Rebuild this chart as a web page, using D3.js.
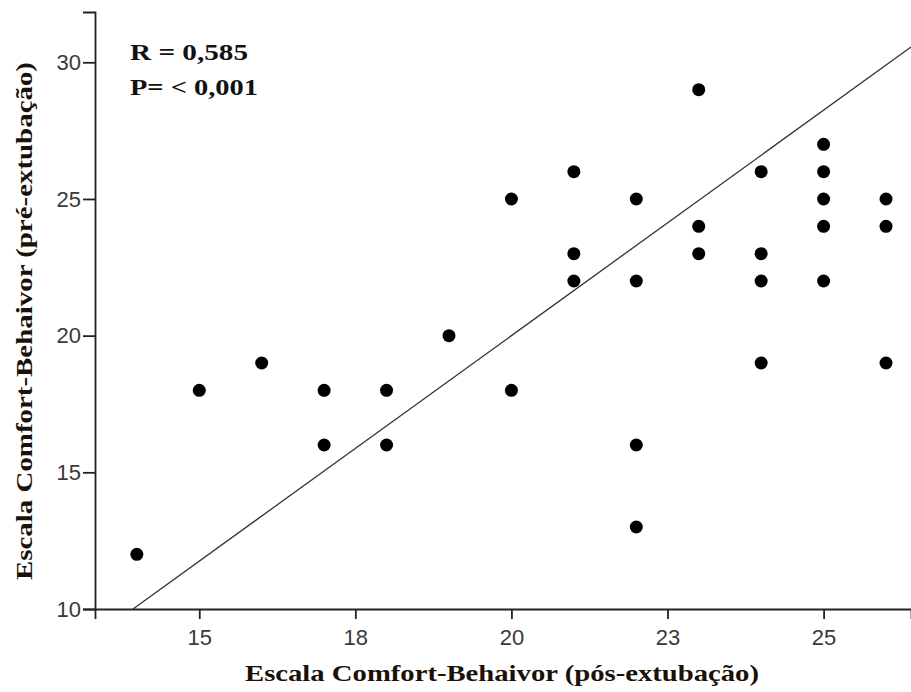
<!DOCTYPE html>
<html>
<head>
<meta charset="utf-8">
<script src="https://cdn.jsdelivr.net/npm/d3@7"></script>
<style>
  body { margin: 0; background: #fff; }
  .tick text { font-family: "Liberation Sans", Arial, sans-serif; font-size: 22px; fill: #3a3a3a; }
  .axis-title { font-family: "Liberation Serif", "Times New Roman", serif; font-weight: bold; font-size: 24px; fill: #1a1208; }
  .stat { font-family: "Liberation Serif", "Times New Roman", serif; font-weight: bold; font-size: 24px; fill: #111; }
</style>
</head>
<body>
<svg id="canvas" width="911" height="692"></svg>
<script>
// pós-extubação (x) and pré-extubação (y) scores
let posScores = [14, 15, 16, 17, 17, 18, 18, 19, 20, 20, 21, 21, 21, 22, 22, 22, 22,
                 23, 23, 23, 24, 24, 24, 24, 25, 25, 25, 25, 25, 26, 26, 26];
let preScores = [12, 18, 19, 18, 16, 18, 16, 20, 25, 18, 26, 23, 22, 25, 22, 16, 13,
                 29, 24, 23, 26, 23, 22, 19, 27, 26, 25, 24, 22, 25, 24, 19];
let xTicks = [15, 17.5, 20, 22.5, 25];
let yTicks = [10, 15, 20, 25, 30];
let fitIntercept = -13.0, fitSlope = 1.65;
let statLines = ["R = 0,585", "P= < 0,001"];
let statWidths = [118, 128];

let canvas = d3.select("#canvas");
let margin = { left: 95, right: 0, top: 12, bottom: 83 };
let width = 911, height = 692;

let xScale = d3.scaleLinear()
               .domain([13.33, 26.4])
               .range([margin.left, width - margin.right]);
let yScale = d3.scaleLinear()
               .domain([10, 31.84])
               .range([height - margin.bottom, margin.top]);

let points = posScores.map((x, i) => ({ x: x, y: preScores[i] }));

// axes
let xAxis = d3.axisBottom(xScale)
              .tickValues(xTicks)
              .tickFormat((d) => Math.round(d))
              .tickSizeOuter(0)
              .tickSize(10)
              .tickPadding(10);
let yAxis = d3.axisLeft(yScale)
              .tickValues(yTicks)
              .tickSizeOuter(0)
              .tickSize(12)
              .tickPadding(2);

let gx = canvas.append("g")
      .attr("transform", "translate(0," + (height - margin.bottom) + ")")
      .call(xAxis);
let gy = canvas.append("g")
      .attr("transform", "translate(" + margin.left + ",0)")
      .call(yAxis);
[gx, gy].forEach((g) => {
  g.selectAll("path, line").attr("stroke", "#222").attr("stroke-width", 1.8);
});

// fit line, clipped to the plot box
let x0 = xScale.domain()[0], x1 = xScale.domain()[1];
let yMin = yScale.domain()[0], yMax = yScale.domain()[1];
let xStart = Math.max(x0, (yMin - fitIntercept) / fitSlope);
let xEnd = Math.min(x1, (yMax - fitIntercept) / fitSlope);
canvas.append("line")
      .attr("x1", xScale(xStart))
      .attr("y1", yScale(fitIntercept + fitSlope * xStart))
      .attr("x2", xScale(xEnd))
      .attr("y2", yScale(fitIntercept + fitSlope * xEnd))
      .attr("stroke", "#333")
      .attr("stroke-width", 1.3);

// points
canvas.selectAll("circle")
      .data(points)
      .enter()
      .append("circle")
      .attr("cx", (d) => xScale(d.x))
      .attr("cy", (d) => yScale(d.y))
      .attr("r", 6.5)
      .attr("fill", "#000");

// stats
canvas.selectAll(".stat")
      .data(statLines)
      .enter()
      .append("text")
      .attr("class", "stat")
      .attr("x", 130)
      .attr("y", (d, i) => 60 + i * 35)
      .attr("textLength", (d, i) => statWidths[i])
      .attr("lengthAdjust", "spacingAndGlyphs")
      .text((d) => d);

// axis titles
canvas.append("text")
      .attr("class", "axis-title")
      .attr("x", 245)
      .attr("y", 681)
      .attr("textLength", 514)
      .attr("lengthAdjust", "spacingAndGlyphs")
      .text("Escala Comfort-Behaivor (pós-extubação)");
canvas.append("text")
      .attr("class", "axis-title")
      .attr("transform", "translate(32,580) rotate(-90)")
      .attr("textLength", 518)
      .attr("lengthAdjust", "spacingAndGlyphs")
      .text("Escala Comfort-Behaivor (pré-extubação)");
</script>
</body>
</html>
